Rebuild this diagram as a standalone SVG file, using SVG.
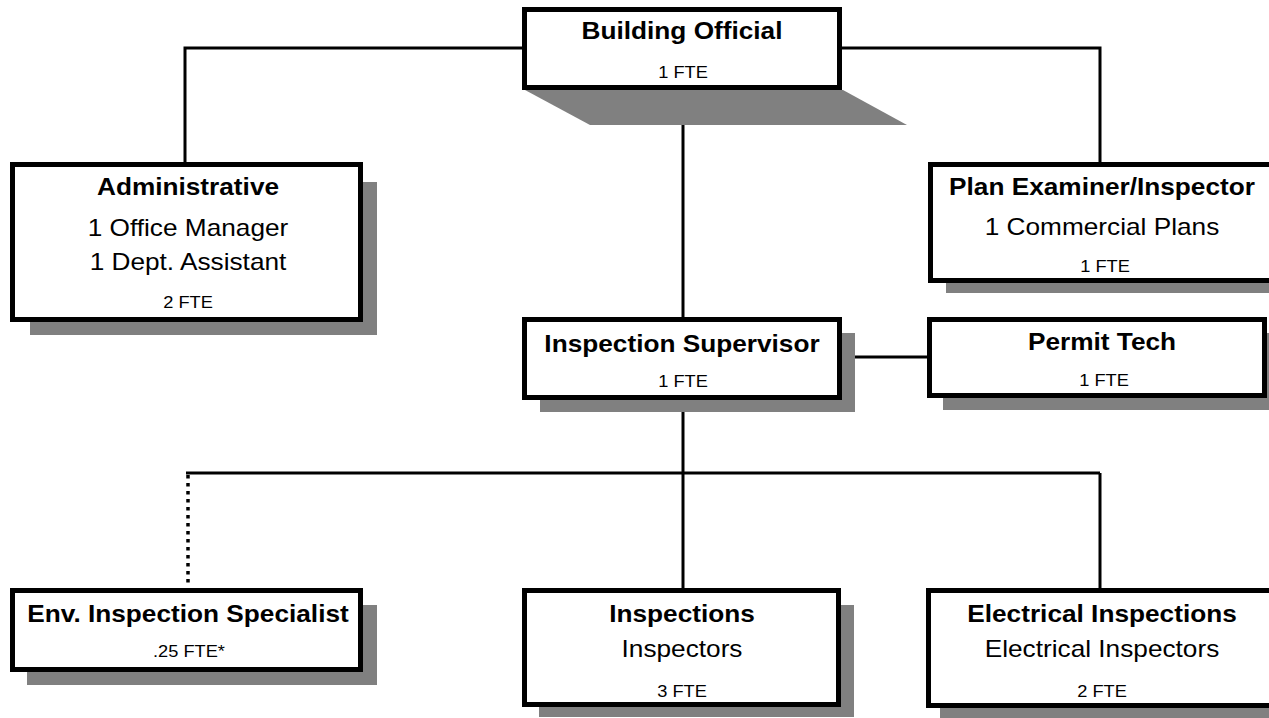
<svg xmlns="http://www.w3.org/2000/svg" width="1269" height="718" viewBox="0 0 1269 718">
  <style>
    .bg { fill: #ffffff; }
    .box { fill: #ffffff; stroke: #000000; stroke-width: 5; }
    .shadow { fill: #808080; stroke: none; }
    .conn { fill: none; stroke: #000000; stroke-width: 3; }
    .dotted { fill: none; stroke: #000000; stroke-width: 3.5; stroke-dasharray: 3.5 4.5; }
    text { font-family: "Liberation Sans", Arial, sans-serif; fill: #000000; text-anchor: middle; }
    .title { font-size: 23px; font-weight: bold; }
    .sub { font-size: 23px; }
    .fte { font-size: 16px; }
  </style>
  <rect class="bg" x="0" y="0" width="1269" height="718"/>

  <g id="connectors">
    <path class="conn" d="M522,48 H185 V162"/>
    <path class="conn" d="M842,48 H1100 V162"/>
    <path class="conn" d="M683,90 V317"/>
    <path class="conn" d="M842,357 H928"/>
    <path class="conn" d="M683,400 V473"/>
    <path class="conn" d="M186,473 H1100"/>
    <path class="conn" d="M683,473 V588"/>
    <path class="conn" d="M1100,473 V588"/>
    <path class="dotted" d="M188,475 V587"/>
  </g>

  <g id="building-official">
    <polygon class="shadow" points="525,90 843,90 907,125 590,125"/>
    <rect class="box" x="524.5" y="9.5" width="315" height="78"/>
    <text class="title" transform="translate(682,39) scale(1.14,1)">Building Official</text>
    <text class="fte" transform="translate(683,78) scale(1.14,1)">1 FTE</text>
  </g>

  <g id="administrative">
    <rect class="shadow" x="30" y="182" width="347" height="153"/>
    <rect class="box" x="12.5" y="164.5" width="348" height="155"/>
    <text class="title" transform="translate(188,195) scale(1.14,1)">Administrative</text>
    <text class="sub" transform="translate(188,236) scale(1.14,1)">1 Office Manager</text>
    <text class="sub" transform="translate(188,270) scale(1.14,1)">1 Dept. Assistant</text>
    <text class="fte" transform="translate(188,308) scale(1.14,1)">2 FTE</text>
  </g>

  <g id="plan-examiner">
    <rect class="shadow" x="946" y="182" width="340" height="111"/>
    <rect class="box" x="930.5" y="164.5" width="348" height="116"/>
    <text class="title" transform="translate(1102,195) scale(1.14,1)">Plan Examiner/Inspector</text>
    <text class="sub" transform="translate(1102,235) scale(1.14,1)">1 Commercial Plans</text>
    <text class="fte" transform="translate(1105,272) scale(1.14,1)">1 FTE</text>
  </g>

  <g id="inspection-supervisor">
    <rect class="shadow" x="540" y="333" width="315" height="79"/>
    <rect class="box" x="524.5" y="319.5" width="315" height="78"/>
    <text class="title" transform="translate(682,352) scale(1.14,1)">Inspection Supervisor</text>
    <text class="fte" transform="translate(683,387) scale(1.14,1)">1 FTE</text>
  </g>

  <g id="permit-tech">
    <rect class="shadow" x="943" y="333" width="340" height="77"/>
    <rect class="box" x="929.5" y="319.5" width="335" height="76"/>
    <text class="title" transform="translate(1102,350) scale(1.14,1)">Permit Tech</text>
    <text class="fte" transform="translate(1104,386) scale(1.14,1)">1 FTE</text>
  </g>

  <g id="env-inspection-specialist">
    <rect class="shadow" x="27" y="605" width="350" height="80"/>
    <rect class="box" x="12.5" y="590.5" width="348" height="79"/>
    <text class="title" transform="translate(188,622) scale(1.14,1)">Env. Inspection Specialist</text>
    <text class="fte" transform="translate(189,657) scale(1.14,1)">.25 FTE*</text>
  </g>

  <g id="inspections">
    <rect class="shadow" x="539" y="605" width="315" height="112"/>
    <rect class="box" x="524.5" y="590.5" width="314" height="114"/>
    <text class="title" transform="translate(682,622) scale(1.14,1)">Inspections</text>
    <text class="sub" transform="translate(682,657) scale(1.14,1)">Inspectors</text>
    <text class="fte" transform="translate(682,697) scale(1.14,1)">3 FTE</text>
  </g>

  <g id="electrical-inspections">
    <rect class="shadow" x="940" y="605" width="350" height="120"/>
    <rect class="box" x="928.5" y="590.5" width="348" height="115"/>
    <text class="title" transform="translate(1102,622) scale(1.14,1)">Electrical Inspections</text>
    <text class="sub" transform="translate(1102,657) scale(1.14,1)">Electrical Inspectors</text>
    <text class="fte" transform="translate(1102,697) scale(1.14,1)">2 FTE</text>
  </g>
</svg>
